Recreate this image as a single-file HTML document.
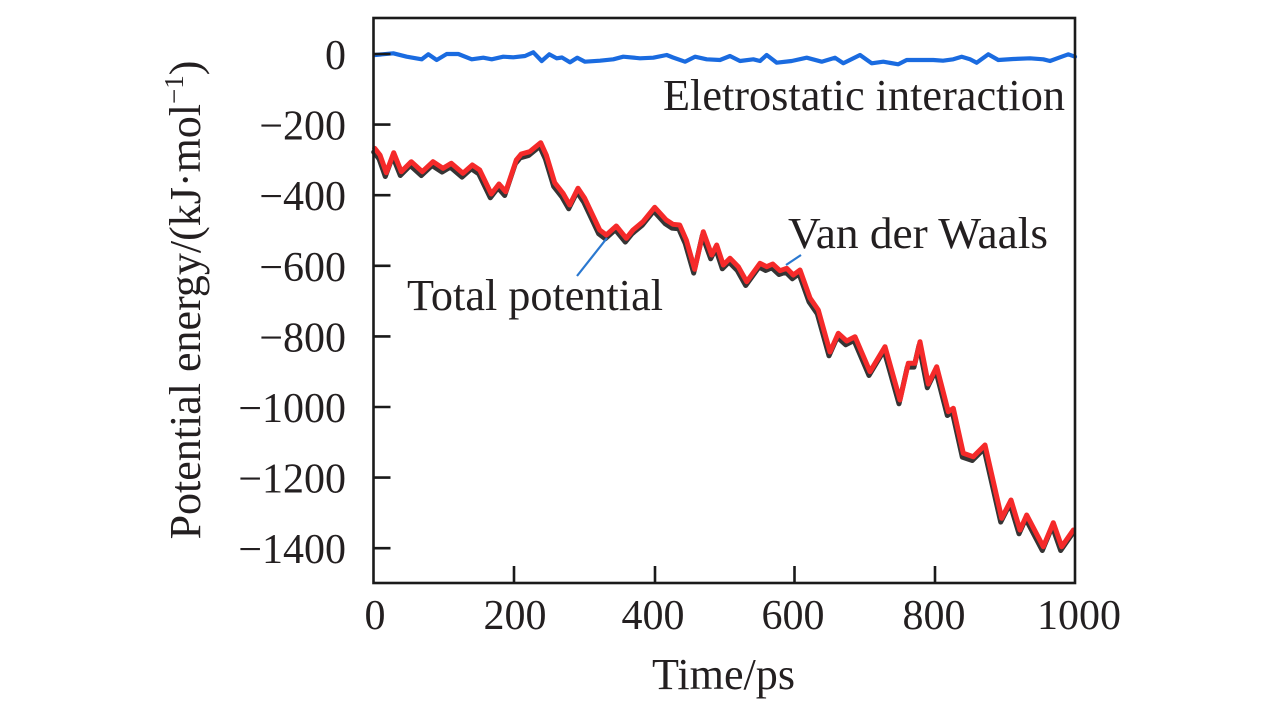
<!DOCTYPE html>
<html>
<head>
<meta charset="utf-8">
<style>
html,body{margin:0;padding:0;background:#fff;}
svg{display:block;}
text{font-family:"Liberation Serif","Times New Roman",serif;fill:#231f20;}
</style>
</head>
<body>
<svg width="1283" height="709" viewBox="0 0 1283 709" xmlns="http://www.w3.org/2000/svg">
<rect width="1283" height="709" fill="#fff"/>

<!-- series: total potential (dark, slightly below) -->
<polyline fill="none" stroke="#353535" stroke-width="5" stroke-linejoin="round" stroke-linecap="round" transform="translate(-1,3.8)"
points="374.7,148.3 380,155 386.3,172.7 393.7,152.7 401.3,171.7 411.3,161.7 422.3,171.7 433,161.7 443,168.3 451.3,163.3 463,173.3 472.3,165 479.7,170 491.3,194 499,184 505.7,191.7 516.3,160 521.3,154 529.7,151.7 540.7,142.7 546.3,155 554.7,182.7 563,193.3 569.7,205 578,188.3 584.7,198.3 599.7,230 606.3,235 616.3,226 626.3,238.3 633,230 643,221.7 654.7,207.3 666.3,220 673,224.3 679.7,225 686.3,240 694.7,269.3 703.3,231.7 711.7,255 716.7,245 723.3,265 730,258.3 738.3,266.7 746.7,281.7 760,263.3 766.7,266.7 772.7,264 780,270.7 786.7,268.3 793.3,275 800,270 810,298 818.3,310 830,352 838.3,333.3 846.7,341 855,336.7 870,371.7 885,346.7 900,400 908.3,363.3 915,363.3 920,341.7 928.3,384 936.7,366.7 948.3,411.7 953.3,408.3 963.3,453.3 973.3,456.7 985,445 1001.7,518.3 1011,500 1020,530 1026.7,515 1043.3,546.7 1053.3,522.7 1061.7,546.7 1073.3,530"/>

<!-- series: van der waals (red) -->
<polyline fill="none" stroke="#f52a2a" stroke-width="5" stroke-linejoin="round" stroke-linecap="round"
points="374.7,148.3 380,155 386.3,172.7 393.7,152.7 401.3,171.7 411.3,161.7 422.3,171.7 433,161.7 443,168.3 451.3,163.3 463,173.3 472.3,165 479.7,170 491.3,194 499,184 505.7,191.7 516.3,160 521.3,154 529.7,151.7 540.7,142.7 546.3,155 554.7,182.7 563,193.3 569.7,205 578,188.3 584.7,198.3 599.7,230 606.3,235 616.3,226 626.3,238.3 633,230 643,221.7 654.7,207.3 666.3,220 673,224.3 679.7,225 686.3,240 694.7,269.3 703.3,231.7 711.7,255 716.7,245 723.3,265 730,258.3 738.3,266.7 746.7,281.7 760,263.3 766.7,266.7 772.7,264 780,270.7 786.7,268.3 793.3,275 800,270 810,298 818.3,310 830,352 838.3,333.3 846.7,341 855,336.7 870,371.7 885,346.7 900,400 908.3,363.3 915,363.3 920,341.7 928.3,384 936.7,366.7 948.3,411.7 953.3,408.3 963.3,453.3 973.3,456.7 985,445 1001.7,518.3 1011,500 1020,530 1026.7,515 1043.3,546.7 1053.3,522.7 1061.7,546.7 1073.3,530"/>

<!-- series: electrostatic (blue) -->
<polyline fill="none" stroke="#1a6be0" stroke-width="4.2" stroke-linejoin="round" stroke-linecap="round"
points="375,55 393.3,53.3 406.7,56.7 421.7,59.3 428.3,54.3 436.7,60 446.7,54 458.3,54 471.7,59.3 483.3,57.7 491.7,59.3 503.3,56.7 513.3,57.3 525,56 533.3,52.3 541.7,61 549.3,54.3 556.7,58.3 562,57.5 570,62.3 577.3,57.7 585,61.7 600,60.7 613.3,59.3 623.3,56.7 640,58.3 653.3,57.7 666.7,55 673,57.5 685,61.7 695,56.7 706.7,59.3 720,60 730,56 740,61 753.3,59.3 760,61 766.7,55 776.7,62.7 791.7,61 806.7,57.7 821.7,61.7 835,57.7 843.3,63.3 860,55 871.7,63.3 883.3,61.7 898.3,64.3 906.7,60 920,60 933.3,60 943,60.7 953.3,59.3 961.7,56.7 970,59.3 976.7,62.7 988.3,54.3 998.3,60 1013.3,59 1030,58.3 1043.3,59.3 1050,61 1060,57.3 1068.3,54.3 1075,56.7"/>

<!-- leader lines -->
<line x1="577" y1="276" x2="607" y2="238" stroke="#2a78d0" stroke-width="2.2"/>
<line x1="786" y1="265" x2="801" y2="255" stroke="#2a78d0" stroke-width="2.2"/>

<!-- frame -->
<rect x="373.5" y="18" width="701.5" height="565" fill="none" stroke="#1a1a1a" stroke-width="2.6"/>

<!-- y ticks -->
<g stroke="#1a1a1a" stroke-width="2.6">
<line x1="373.5" y1="54" x2="390.5" y2="54"/>
<line x1="373.5" y1="124.6" x2="390.5" y2="124.6"/>
<line x1="373.5" y1="195.2" x2="390.5" y2="195.2"/>
<line x1="373.5" y1="265.8" x2="390.5" y2="265.8"/>
<line x1="373.5" y1="336.4" x2="390.5" y2="336.4"/>
<line x1="373.5" y1="407" x2="390.5" y2="407"/>
<line x1="373.5" y1="477.6" x2="390.5" y2="477.6"/>
<line x1="373.5" y1="548.2" x2="390.5" y2="548.2"/>
<!-- x ticks -->
<line x1="514" y1="583" x2="514" y2="566"/>
<line x1="655" y1="583" x2="655" y2="566"/>
<line x1="794.5" y1="583" x2="794.5" y2="566"/>
<line x1="935" y1="583" x2="935" y2="566"/>
</g>

<!-- y tick labels -->
<g font-size="42" text-anchor="end">
<text x="346" y="69">0</text>
<text x="346" y="139.6">−200</text>
<text x="346" y="210.2">−400</text>
<text x="346" y="280.8">−600</text>
<text x="346" y="351.4">−800</text>
<text x="346" y="422">−1000</text>
<text x="346" y="492.6">−1200</text>
<text x="346" y="563.2">−1400</text>
</g>

<!-- x tick labels -->
<g font-size="42" text-anchor="middle">
<text x="375" y="629">0</text>
<text x="515" y="629">200</text>
<text x="653" y="629">400</text>
<text x="793" y="629">600</text>
<text x="934" y="629">800</text>
<text x="1079" y="629">1000</text>
</g>

<!-- axis titles -->
<text x="652" y="689" font-size="44" textLength="143" lengthAdjust="spacingAndGlyphs">Time/ps</text>
<text transform="translate(200,300) rotate(-90)" font-size="44" text-anchor="middle">Potential energy/(kJ·mol<tspan font-size="27" dy="-17">−1</tspan><tspan dy="17">)</tspan></text>

<!-- annotations -->
<text x="663" y="110" font-size="44" textLength="402" lengthAdjust="spacingAndGlyphs">Eletrostatic interaction</text>
<text x="788" y="248" font-size="44" textLength="260" lengthAdjust="spacingAndGlyphs">Van der Waals</text>
<text x="407" y="310" font-size="44" textLength="256" lengthAdjust="spacingAndGlyphs">Total potential</text>
</svg>
</body>
</html>
